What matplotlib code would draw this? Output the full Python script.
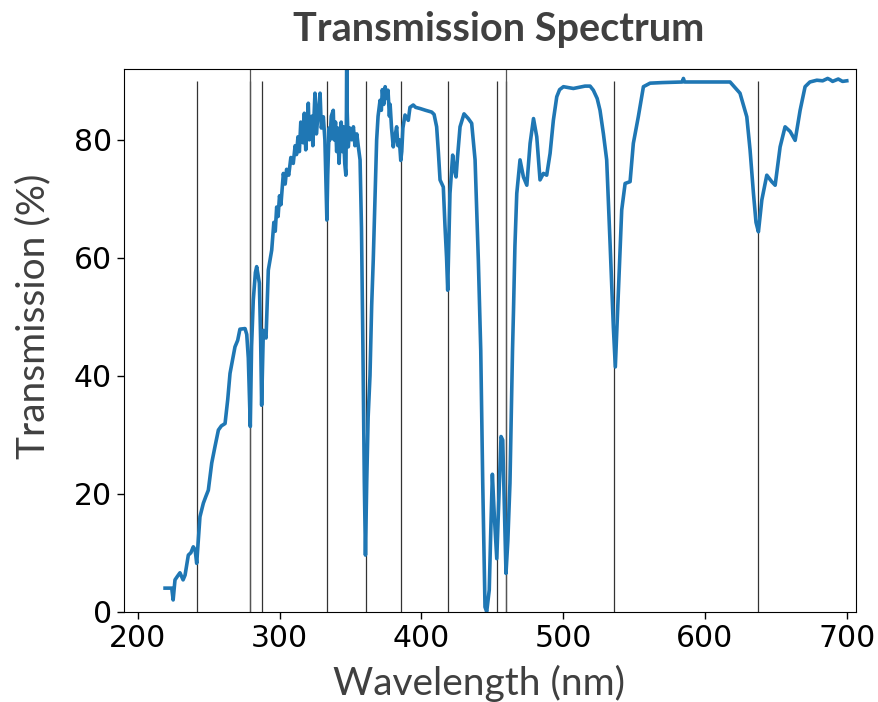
import matplotlib
matplotlib.use("Agg")
import matplotlib.pyplot as plt

# Spectrum (wavelength in nm, transmission in %)
wavelength = [
    219.3, 224.0, 225.0, 226.3, 228.0, 229.8, 232.0, 233.4, 235.7, 237.5, 239.2, 240.5, 241.6,
    243.9, 246.3, 248.0, 249.8, 252.2, 254.5, 256.9, 259.0, 261.6, 263.5, 265.1, 268.6,
    270.5, 272.1, 275.7, 276.9, 278.0, 278.8, 279.4, 280.3, 281.5, 283.0, 283.9, 285.8,
    286.7, 287.4, 288.6, 290.5, 292.1, 294.5,
    296.0, 297.0, 298.0, 299.0, 300.0, 301.0, 302.7, 304.0, 305.0, 306.5, 308.0, 309.7,
    311.0, 312.0, 313.0, 314.0, 315.0, 316.6, 317.5, 318.5, 320.3, 321.0, 322.7, 323.5,
    325.0, 326.0, 327.4, 328.6, 329.5, 330.9, 332.0, 332.8, 333.4, 334.0, 335.0, 335.6,
    336.5, 337.9, 338.5, 339.5, 340.3, 341.0, 342.0, 342.7, 343.5, 344.3, 345.0, 346.0,
    346.8, 347.2, 347.4, 347.7, 348.5, 349.5, 350.9, 352.1, 353.2, 354.5, 355.6, 356.8,
    357.8, 358.8, 359.8, 360.6, 361.5, 362.5, 363.8, 365.0, 366.1, 367.3, 368.5, 369.5,
    370.9, 371.8, 372.5, 373.5, 374.5, 375.6, 376.5, 377.5, 378.0, 379.0, 380.2, 381.0,
    382.6, 383.5, 384.5, 385.5, 386.2, 387.0, 388.5, 390.8, 392.0, 394.3, 396.0, 399.1,
    403.0, 407.3, 409.0, 410.8, 412.0, 413.2, 415.5, 416.7, 417.8, 418.6, 419.3, 420.2,
    422.1, 423.3, 424.5, 425.5, 427.3, 430.1, 433.1, 435.5, 437.9, 440.2, 441.9, 443.3,
    444.9, 446.1, 447.9, 449.0, 450.1, 451.5, 453.2, 454.5, 456.2, 457.4, 458.5, 459.7,
    461.0, 462.5, 464.3, 465.0, 466.0, 467.3, 469.6, 472.0, 474.4, 476.7, 479.1, 481.4,
    483.7, 486.1, 488.4, 490.8, 493.1, 495.5, 497.5, 500.2, 507.2, 515.4, 519.0, 521.3,
    524.0, 526.0, 528.4, 530.7, 533.1, 535.4, 536.8, 538.9, 541.3, 543.7, 547.2, 549.5,
    553.0, 556.6, 561.3, 570.0, 584.0, 584.8, 585.6, 598.0, 608.3, 617.7, 624.7, 629.5,
    631.8, 634.2, 636.0, 637.7, 640.1, 643.6, 647.1, 649.5, 653.0, 656.5, 660.1, 663.6,
    667.1, 670.6, 674.0, 678.9, 683.0, 686.5, 688.2, 690.0, 694.0, 697.0, 700.0,
]
transmission = [
    4.0, 4.0, 2.0, 5.4, 6.0, 6.6, 5.4, 6.2, 9.6, 10.0, 11.0, 10.5, 8.2,
    16.1, 18.4, 19.5, 20.6, 25.2, 28.0, 30.8, 31.5, 31.9, 36.0, 40.4, 44.9,
    46.0, 47.9, 48.0, 47.0, 43.0, 36.0, 31.4, 45.0, 52.8, 57.5, 58.5, 55.7,
    46.0, 35.0, 47.7, 46.4, 57.9, 61.3,
    66.0, 64.5, 68.6, 67.0, 70.5, 69.0, 74.3, 72.5, 75.0, 74.0, 77.0, 76.0,
    79.0, 77.5, 80.5, 78.0, 83.0, 79.5, 84.5, 78.3, 86.2, 80.0, 84.0, 79.0,
    87.9, 81.0, 85.0, 87.9, 82.0, 83.9, 80.0, 72.0, 66.4, 74.0, 82.0, 80.0,
    84.0, 85.0, 80.0, 83.0, 78.0, 82.0, 76.0, 79.9, 83.0, 78.0, 82.2, 76.0,
    74.0, 85.0, 96.0, 85.0, 78.8, 82.0, 80.0, 82.2, 79.0, 81.0, 78.8, 76.6,
    65.0, 45.0, 22.0, 9.6, 22.0, 33.0, 40.0, 52.0, 59.6, 70.0, 80.0, 84.0,
    86.7, 85.0, 88.5, 86.0, 89.0, 87.0, 88.4, 84.0, 86.0, 82.0, 78.8, 80.0,
    82.2, 79.0, 80.0, 76.5, 78.0, 82.0, 84.2, 83.3, 85.5, 85.9, 85.5, 85.3,
    85.0, 84.7, 84.3, 82.2, 78.0, 73.2, 72.0, 65.3, 60.0, 54.5, 62.0, 70.9,
    77.4, 75.0, 73.7, 77.0, 82.2, 84.4, 83.6, 82.8, 76.6, 59.6, 44.3, 21.8,
    0.8, 0.0, 3.7, 14.0, 23.3, 16.1, 9.0, 18.0, 29.7, 29.1, 18.0, 6.5,
    12.0, 21.8, 44.3, 51.1, 62.0, 70.9, 76.6, 73.7, 72.3, 79.4, 83.6, 80.5,
    73.2, 74.3, 74.0, 77.7, 83.3, 87.3, 88.5, 89.0, 88.7, 89.1, 89.1, 88.4,
    87.0, 85.0, 81.0, 76.6, 62.4, 48.3, 41.5, 54.0, 68.1, 72.6, 72.9, 79.4,
    83.9, 89.0, 89.6, 89.7, 89.8, 90.4, 89.8, 89.8, 89.8, 89.8, 87.9, 83.9,
    78.3, 70.9, 66.0, 64.4, 69.8, 74.0, 72.9, 72.3, 78.8, 82.2, 81.4, 79.9,
    85.0, 89.0, 89.8, 90.1, 90.0, 90.4, 90.2, 89.9, 90.3, 89.9, 90.0,
]

# Holmium oxide reference lines (nm)
reference_lines = [241.5, 279.4, 287.5, 333.7, 360.9, 385.9, 418.7, 453.2, 460.0, 536.2, 637.5]
full_height_lines = [279.4, 460.0]

title_text = "Transmission Spectrum"
x_label = "Wavelength (nm)"
y_label = "Transmission (%)"
x_ticks = [200, 300, 400, 500, 600, 700]
y_ticks = [0, 20, 40, 60, 80]

fig = plt.figure(figsize=(8.79, 7.02), dpi=100)
ax = fig.add_axes([0.141, 0.1286, 0.8325, 0.7731])

ax.vlines(reference_lines, 0, 90, colors="#333333", linewidth=0.9)
for x in full_height_lines:
    ax.axvline(x, color="#555555", linewidth=0.9)
ax.plot(wavelength, transmission, color="#1f77b4", linewidth=2.6)

ax.set_xlim(190.3, 706.3)
ax.set_ylim(0, 92)
ax.set_xticks(x_ticks)
ax.set_yticks(y_ticks)
ax.tick_params(labelsize=21.5, length=5, width=1)

label_font = dict(family=["Lato", "DejaVu Sans"], color="#404040")
fig.text(0.567, 0.958, title_text, ha="center", va="center", fontsize=28.5,
         fontweight="bold", **label_font)
fig.text(0.545, 0.027, x_label, ha="center", va="center", fontsize=28, **label_font)
fig.text(0.038, 0.55, y_label, ha="center", va="center", rotation=90,
         fontsize=28, **label_font)

fig.savefig("out.png", dpi=100)
